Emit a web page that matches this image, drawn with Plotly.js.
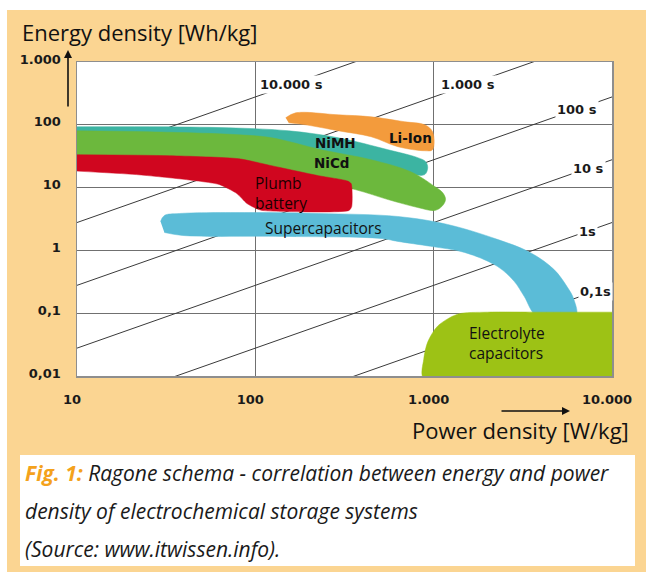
<!DOCTYPE html>
<html>
<head>
<meta charset="utf-8">
<script src="https://cdn.plot.ly/plotly-3.0.1.min.js"></script>
<style>html,body{margin:0;padding:0;background:#fff;}#chart{width:646px;height:574px;}</style>
</head>
<body>
<div id="chart"></div>
<script>
// ---- Data (power density W/kg, energy density Wh/kg) ----
const xTickVals = [10, 100, 1000, 10000];
const xTickText = ['10', '100', '1.000', '10.000'];
const yTickVals = [0.01, 0.1, 1, 10, 100, 1000];
const yTickText = ['0,01', '0,1', '1', '10', '100', '1.000'];

// constant discharge-time lines (seconds)
const timesSec = [10000, 1000, 100, 10, 1, 0.1];
const timeLabels = ['10.000 s', '1.000 s', '100 s', '10 s', '1s', '0,1s'];

// region outlines
const nimhP = [9, 25.5, 71.1, 153.8, 291.6, 554.6, 814, 902, 926, 891, 764, 487.9, 174.7, 48.4, 9];
const nimhE = [93.0, 93.0, 89.6, 80.3, 62.2, 40.1, 30.0, 25.9, 20.7, 16.1, 16.1, 19.3, 33.4, 48.2, 48.2];

const liIonP = [147.9, 168.3, 291.6, 445.9, 689, 891, 986, 986, 891, 630, 445.9, 291.6, 191, 153.8];
const liIonE = [129.2, 155, 144.2, 134.0, 111.7, 100, 77.4, 40.1, 38.6, 44.8, 64.5, 80.3, 100, 107.6];

const nicdP = [9, 25.5, 80.9, 123.6, 234.5, 445.9, 744, 1014, 1122, 1166, 1110, 1014, 814, 554.6, 363, 174.7, 48.4, 9];
const nicdE = [80.3, 77.4, 69.4, 62.2, 40.1, 27.8, 17.9, 10.4, 8.34, 6.45, 4.99, 4.32, 4.82, 6.45, 9.30, 14.4, 23.2, 31.1];

const plumbP = [9, 33.0, 80.9, 123.6, 225.9, 330, 345, 347, 335, 110, 101.9, 89.8, 78.8, 62.7, 41.0, 21.6, 9];
const plumbE = [33.4, 32.2, 28.8, 22.3, 15.5, 12.7, 11.5, 5.0, 4.32, 4.32, 4.6, 5.57, 8.04, 11.2, 13.4, 16.1, 18.6];

const superP = [29.4, 30.9, 37.5, 92.1, 225.9, 630, 1197, 2274, 3470, 4720, 5580, 6107, 6270, 3797, 3215, 2827, 2274, 1489, 962, 630, 507, 140.6, 39.0, 30.9];
const superE = [2.89, 3.60, 3.87, 4.01, 3.87, 3.47, 2.59, 1.50, 0.929, 0.499, 0.268, 0.167, 0.09, 0.09, 0.186, 0.322, 0.557, 0.929, 1.16, 1.39, 1.55, 1.67, 1.73, 1.93];

const elecP = [11000, 4000, 2000, 1361, 1052, 926, 880, 880, 11000];
const elecE = [0.104, 0.104, 0.104, 0.0964, 0.0622, 0.0347, 0.0186, 0.009, 0.009];

// ---- Traces ----
const traces = [];
timesSec.forEach(function (t) {
  const px = [10, 10000];
  traces.push({
    x: px, y: px.map(function (p) { return p * t / 3600; }),
    mode: 'lines', line: {color: '#3a3a3a', width: 1}, hoverinfo: 'skip'
  });
});
function region(P, E, color, smooth) {
  return {x: P, y: E, mode: 'lines', fill: 'toself', fillcolor: color,
    line: {color: color, width: 0.5, shape: 'spline', smoothing: smooth}, hoverinfo: 'skip'};
}
traces.push(region(nimhP, nimhE, '#3cb4a2', 1));
traces.push(region(liIonP, liIonE, '#f39b3c', 1));
traces.push(region(nicdP, nicdE, '#6cb83d', 1));
traces.push(region(plumbP, plumbE, '#d0061f', 0.6));
traces.push(region(superP, superE, '#5bbcd7', 1));
traces.push(region(elecP, elecE, '#9dc215', 0.8));

// ---- Layout helpers ----
const L = 77, R = 612, T = 62, B = 376, W = 646, H = 574;
function px2paperX(px) { return (px - L) / (R - L); }
function px2paperY(py) { return (B - py) / (B - T); }
const lg = Math.log10;

const labelPower = [158.5, 1560, 6370, 7350, 7250, 8040];
const annotations = [];
timesSec.forEach(function (t, i) {
  const p = labelPower[i];
  annotations.push({x: lg(p), y: lg(p * t / 3600), xref: 'x', yref: 'y', text: timeLabels[i],
    showarrow: false, bgcolor: 'white', borderpad: 1,
    font: {family: 'DejaVu Sans', size: 13, weight: 'bold', color: '#1a1a1a'}});
});
const boldLbl = {family: 'DejaVu Sans', size: 13.5, weight: 'bold', color: '#111'};
const regLbl = {family: 'Open Sans', size: 15.5, color: '#111'};
annotations.push({x: 2.868, y: 1.794, xref: 'x', yref: 'y', text: 'Li-Ion', showarrow: false, font: boldLbl});
annotations.push({x: 2.447, y: 1.714, xref: 'x', yref: 'y', text: 'NiMH', showarrow: false, font: boldLbl});
annotations.push({x: 2.430, y: 1.397, xref: 'x', yref: 'y', text: 'NiCd', showarrow: false, font: boldLbl});
annotations.push({x: 1.987, y: 0.921, xref: 'x', yref: 'y', text: 'Plumb<br>battery', showarrow: false,
  xanchor: 'left', align: 'left', font: {family: 'Open Sans', size: 15.5, color: '#1a0000'}});
annotations.push({x: 2.385, y: 0.349, xref: 'x', yref: 'y', text: 'Supercapacitors', showarrow: false, font: regLbl});
annotations.push({x: 3.187, y: -1.468, xref: 'x', yref: 'y', text: 'Electrolyte<br>capacitors', showarrow: false,
  xanchor: 'left', align: 'left', font: regLbl});

// axis titles
annotations.push({xref: 'paper', yref: 'paper', x: px2paperX(20), y: px2paperY(32), xanchor: 'left', yanchor: 'middle',
  text: 'Energy density [Wh/kg]', showarrow: false, font: {family: 'Open Sans', size: 22, color: '#111'}});
annotations.push({xref: 'paper', yref: 'paper', x: px2paperX(631), y: px2paperY(430), xanchor: 'right', yanchor: 'middle',
  text: 'Power density [W/kg]', showarrow: false, font: {family: 'Open Sans', size: 22, color: '#111'}});
// axis arrows
annotations.push({xref: 'paper', yref: 'paper', x: px2paperX(68), y: px2paperY(50), ax: 0, ay: 58, text: '',
  showarrow: true, arrowhead: 2, arrowsize: 1, arrowwidth: 1.6, arrowcolor: '#111'});
annotations.push({xref: 'paper', yref: 'paper', x: px2paperX(570), y: px2paperY(411), ax: -70, ay: 0, text: '',
  showarrow: true, arrowhead: 2, arrowsize: 1, arrowwidth: 1.6, arrowcolor: '#111'});
// caption
const capFont = {family: 'Open Sans', size: 21, style: 'italic', color: '#1a1a1a'};
annotations.push({xref: 'paper', yref: 'paper', x: px2paperX(23), y: px2paperY(473), xanchor: 'left', yanchor: 'middle',
  showarrow: false, font: capFont,
  text: '<span style="color:#f4a21c;font-weight:bold">Fig. 1:</span> Ragone schema - correlation between energy and power'});
annotations.push({xref: 'paper', yref: 'paper', x: px2paperX(23), y: px2paperY(511), xanchor: 'left', yanchor: 'middle',
  showarrow: false, font: capFont, text: 'density of electrochemical storage systems'});
annotations.push({xref: 'paper', yref: 'paper', x: px2paperX(23), y: px2paperY(549), xanchor: 'left', yanchor: 'middle',
  showarrow: false, font: capFont, text: '(Source: www.itwissen.info).'});

const shapes = [
  {type: 'rect', xref: 'paper', yref: 'paper', x0: px2paperX(-10), x1: px2paperX(7), y0: px2paperY(600), y1: px2paperY(-10),
    fillcolor: 'white', line: {width: 0}, layer: 'above'},
  {type: 'rect', xref: 'paper', yref: 'paper', x0: px2paperX(-10), x1: px2paperX(660), y0: px2paperY(10), y1: px2paperY(-10),
    fillcolor: 'white', line: {width: 0}, layer: 'above'},
  {type: 'rect', xref: 'paper', yref: 'paper', x0: px2paperX(-10), x1: px2paperX(660), y0: px2paperY(590), y1: px2paperY(572),
    fillcolor: 'white', line: {width: 0}, layer: 'above'},
  {type: 'rect', xref: 'paper', yref: 'paper', x0: px2paperX(20), x1: px2paperX(635), y0: px2paperY(566), y1: px2paperY(455),
    fillcolor: 'white', line: {width: 0}, layer: 'above'}
];

const axisCommon = {
  type: 'log', showgrid: true, gridcolor: '#707070', gridwidth: 1,
  showline: true, mirror: true, linecolor: '#8e8e8e', linewidth: 1.5,
  ticks: 'outside', tickcolor: 'rgba(0,0,0,0)', zeroline: false, fixedrange: true,
  tickfont: {family: 'DejaVu Sans', size: 13, weight: 'bold', color: '#1a1a1a'}
};

const layout = {
  width: W, height: H,
  margin: {l: L, r: W - R, t: T, b: H - B, pad: 0},
  paper_bgcolor: '#fbd592', plot_bgcolor: 'white', showlegend: false,
  xaxis: Object.assign({}, axisCommon, {range: [1, 4], tickvals: xTickVals, ticktext: xTickText, ticklen: 11, ticklabelshift: -5}),
  yaxis: Object.assign({}, axisCommon, {range: [-2, 3], tickvals: yTickVals, ticktext: yTickText, ticklen: 12, ticklabelshift: -3}),
  annotations: annotations, shapes: shapes
};

Plotly.newPlot('chart', traces, layout, {staticPlot: true, displayModeBar: false});
</script>
</body>
</html>
